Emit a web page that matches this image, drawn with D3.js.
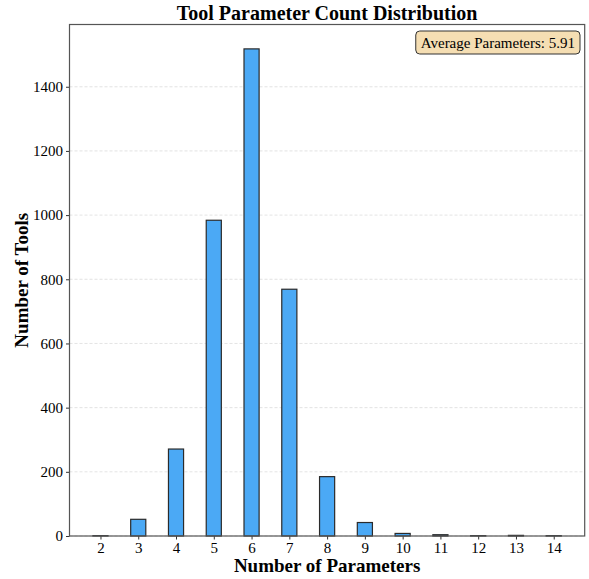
<!DOCTYPE html>
<html><head><meta charset="utf-8">
<script src="https://cdn.jsdelivr.net/npm/d3@7"></script>
<style>body{margin:0;background:#fff}svg{display:block}text{font-family:"Liberation Serif","Times New Roman",serif}</style>
</head><body><svg id="c" width="589" height="579"></svg>
<script>
const params = [2,3,4,5,6,7,8,9,10,11,12,13,14];
const counts = [1,52,271,984,1518,769,185,42,8,4,1,2,1];
const yTicks = [0,200,400,600,800,1000,1200,1400];
const title = "Tool Parameter Count Distribution";
const xLabel = "Number of Parameters";
const yLabel = "Number of Tools";
const avgLabel = "Average Parameters: 5.91";

const svg = d3.select("#c");
const m = {l:69.5, r:584.7, t:24.5, b:536};
const barW = 0.4;
const x = d3.scaleLinear().domain([1.18, 14.82]).range([m.l, m.r]);
const y = d3.scaleLinear().domain([0, 1594]).range([m.b, m.t]);

// grid
svg.append("g").selectAll("line").data(yTicks).join("line")
  .attr("x1", m.l).attr("x2", m.r).attr("y1", d=>y(d)).attr("y2", d=>y(d))
  .attr("stroke", "#ccc").attr("stroke-opacity", 0.7).attr("stroke-width", 0.8).attr("stroke-dasharray", "3,2");

// bars
svg.append("g").selectAll("rect").data(params).join("rect")
  .attr("x", (d)=>x(d - barW/2)).attr("width", (d)=>x(d+barW/2)-x(d-barW/2))
  .attr("y", (d,i)=>y(counts[i])).attr("height", (d,i)=>y(0)-y(counts[i]))
  .attr("fill", "#4BA9F5").attr("stroke", "#2b2b2b").attr("stroke-width", 1.2);

// axes
const xa = svg.append("g").attr("transform", `translate(0,${m.b})`)
  .call(d3.axisBottom(x).tickValues(params).tickSize(3.5).tickPadding(3).tickFormat(d3.format("d")));
const ya = svg.append("g").attr("transform", `translate(${m.l},0)`)
  .call(d3.axisLeft(y).tickValues(yTicks).tickSize(3.5).tickPadding(3).tickFormat(d3.format("d")));
[xa, ya].forEach(a => {
  a.select(".domain").remove();
  a.selectAll("line").attr("stroke", "#333");
  a.selectAll("text").attr("font-size", 15).attr("fill", "#000").attr("font-family", "Liberation Serif");
});

// frame
svg.append("rect").attr("x", m.l).attr("y", m.t).attr("width", m.r-m.l).attr("height", m.b-m.t)
  .attr("fill", "none").attr("stroke", "#555").attr("stroke-width", 1.2);

// titles
svg.append("text").attr("x", (m.l+m.r)/2).attr("y", 20).attr("text-anchor", "middle")
  .attr("font-size", 20).attr("font-weight", "bold").text(title);
svg.append("text").attr("x", (m.l+m.r)/2).attr("y", 572).attr("text-anchor", "middle")
  .attr("font-size", 19).attr("font-weight", "bold").text(xLabel);
svg.append("text").attr("transform", `translate(28,${(m.t+m.b)/2}) rotate(-90)`).attr("text-anchor", "middle")
  .attr("font-size", 19).attr("font-weight", "bold").text(yLabel);

// annotation box
const g = svg.append("g");
const t = g.append("text").attr("x", 575).attr("y", 47.5).attr("text-anchor", "end")
  .attr("font-size", 15).text(avgLabel);
const bb = t.node().getBBox();
g.insert("rect", "text").attr("x", bb.x-5).attr("y", 31).attr("width", bb.width+10).attr("height", 23)
  .attr("rx", 4).attr("fill", "#F5DEB3").attr("stroke", "#333").attr("stroke-width", 1);
</script></body></html>
